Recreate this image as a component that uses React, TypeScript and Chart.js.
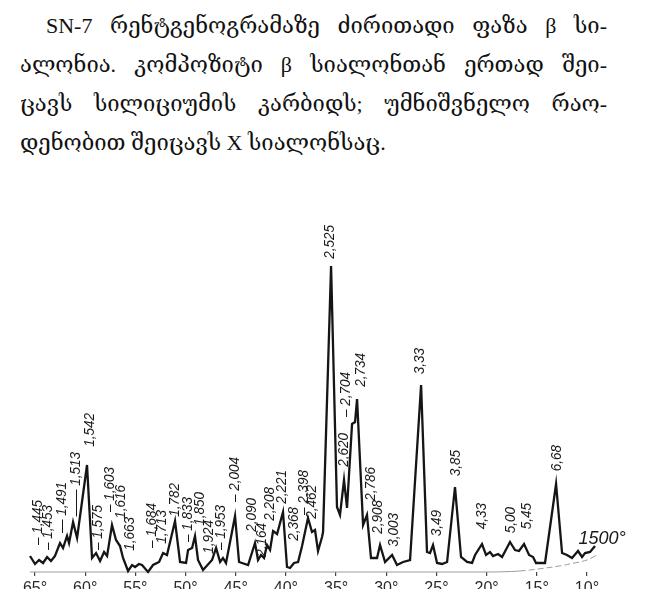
import React, { useEffect, useRef } from "react";
import { Chart, registerables } from "chart.js";

Chart.register(...registerables);

// Caption above the diffractogram
const noteLines = [
  "SN-7 რენტგენოგრამაზე ძირითადი ფაზა β სი-",
  "ალონია. კომპოზიტი β სიალონთან ერთად შეი-",
  "ცავს სილიციუმის კარბიდს; უმნიშვნელო რაო-",
  "დენობით შეიცავს X სიალონსაც.",
];

// Diffraction trace: 2θ (degrees) and recorded intensity (arbitrary units)
const twoTheta = [
  65.5, 65.0, 64.6, 64.2, 63.8, 63.41, 63.01, 62.51, 62.21, 61.81,
  61.61, 61.21, 60.81, 59.82, 59.32, 58.92, 58.52, 58.12, 57.82, 57.33,
  56.93, 56.53, 56.23, 55.73, 55.33, 55.03, 54.64, 54.34, 53.74, 53.24,
  52.64, 52.24, 51.85, 51.05, 50.55, 49.95, 49.75, 49.35, 49.06, 48.76,
  48.26, 47.36, 46.96, 46.56, 46.27, 45.97, 45.07, 44.67, 43.77, 43.08,
  42.78, 42.48, 42.18, 41.88, 41.58, 41.28, 40.88, 40.29, 39.89, 39.59,
  39.19, 38.79, 38.39, 37.8, 37.4, 37.1, 36.8, 36.4, 36.3, 35.5,
  34.91, 34.61, 34.21, 33.91, 33.41, 33.11, 32.91, 32.31, 31.92, 31.52,
  30.92, 30.62, 30.12, 29.42, 28.93, 28.33, 27.63, 26.53, 25.94, 25.64,
  25.34, 24.94, 24.44, 23.94, 23.15, 22.55, 21.95, 21.45, 21.15, 20.46,
  20.06, 19.66, 19.36, 18.86, 18.46, 17.67, 17.17, 16.77, 16.27, 15.77,
  15.37, 15.08, 14.18, 13.08, 12.48, 11.99, 11.49, 10.89, 10.49, 10.19,
  9.69, 9.2,
];
const intensity = [
  16, 8, 12, 9, 15, 11, 16, 29, 24, 36,
  29, 50, 34, 107, 14, 19, 11, 20, 16, 47,
  32, 26, 14, 1, 7, 5, 8, 7, 0, 7,
  10, 19, 17, 51, 10, 9, 22, 24, 36, 12,
  2, 12, 24, 10, 14, 9, 56, 10, 7, 29,
  12, 17, 14, 27, 22, 41, 38, 60, 5, 4,
  9, 10, 26, 54, 40, 42, 21, 35, 40, 306,
  65, 57, 92, 64, 148, 150, 173, 47, 57, 14,
  14, 27, 10, 17, 7, 10, 12, 187, 20, 19,
  27, 9, 8, 10, 85, 15, 10, 9, 17, 28,
  17, 20, 16, 18, 15, 30, 22, 21, 28, 17,
  15, 9, 9, 88, 19, 17, 14, 21, 15, 19,
  20, 26,
];

// Recorder zero line (bends up at low angles)
const axisTheta = [65.5, 20, 16.7, 13.4, 11.7, 10, 9.0];
const axisLevel = [0, 0, 1, 5, 8, 12, 17];

// Interplanar spacings (Å) written over the reflections, with where each one sits
const peakLabels = [
  "– 1,445", "– 1,453", "— 1,491", "—— 1,513", "1,542", "– 1,575", "– 1,603", "1,616",
  "1,663", "– 1,684", "1,713", "1,782", "– 1,833", "1,850", "1,924", "– 1,953",
  "– 2,004", "2,090", "2,164", "2,208", "2,221", "2,368", "– 2,398", "2,462",
  "2,525", "2,620", "– 2,704", "2,734", "2,786", "2,908", "3,003", "3,33",
  "3,49", "3,85", "4,33", "5,00", "5,45", "6,68",
];
const labelTheta = [
  64.7, 63.7, 62.31, 60.91, 59.52, 58.72, 57.53, 56.43,
  55.53, 53.34, 52.34, 51.05, 49.75, 48.56, 47.66, 46.46,
  45.07, 43.38, 42.38, 41.58, 40.39, 39.19, 38.19, 37.4,
  35.6, 34.21, 34.01, 32.51, 31.52, 30.82, 29.23, 26.63,
  24.94, 23.05, 20.46, 17.57, 15.97, 12.98,
];
const labelTop = [
  72, 67, 90, 120, 159, 67, 105, 87,
  55, 69, 62, 89, 75, 80, 52, 67,
  115, 74, 49, 85, 102, 65, 102, 87,
  347, 139, 200, 219, 105, 72, 59, 224,
  62, 122, 69, 65, 69, 127,
];

// Firing temperature of the sample, written at the end of the trace
const curveTag = "1500°";
const curveTagTheta = 8.5;
const curveTagLevel = 33;

const tickDegrees = [65, 60, 55, 50, 45, 40, 35, 30, 25, 20, 15, 10];

const labelFont = 'italic 15px "Liberation Sans", Arial, sans-serif';

const peakLabelsPlugin = {
  id: "peakLabels",
  afterDatasetsDraw(chart: any) {
    const { ctx } = chart;
    const xs = chart.scales.x;
    const ys = chart.scales.y;
    ctx.save();
    ctx.fillStyle = "#1a1a1a";
    ctx.font = labelFont;
    ctx.textAlign = "right";
    ctx.textBaseline = "middle";
    peakLabels.forEach((text, i) => {
      const px = xs.getPixelForValue(labelTheta[i]);
      const py = ys.getPixelForValue(labelTop[i]);
      ctx.save();
      ctx.translate(px, py);
      ctx.rotate(-Math.PI / 2);
      ctx.scale(0.9, 1);
      ctx.fillText(text, 0, 0);
      ctx.restore();
    });
    ctx.font = 'italic 18px "Liberation Sans", Arial, sans-serif';
    ctx.textAlign = "center";
    ctx.fillText(
      curveTag,
      xs.getPixelForValue(curveTagTheta),
      ys.getPixelForValue(curveTagLevel)
    );
    ctx.restore();
  },
};

export default function App() {
  const canvasRef = useRef<HTMLCanvasElement>(null);

  useEffect(() => {
    const canvas = canvasRef.current;
    if (!canvas) return;
    const chart = new Chart(canvas, {
      type: "line",
      data: {
        datasets: [
          {
            label: "1500°",
            data: twoTheta.map((t, i) => ({ x: t, y: intensity[i] })),
            borderColor: "#151515",
            borderWidth: 2.3,
            pointRadius: 0,
            tension: 0,
            fill: false,
            clip: false,
            order: 1,
            borderJoinStyle: "miter",
          },
          {
            label: "zero",
            data: axisTheta.map((t, i) => ({ x: t, y: axisLevel[i] })),
            borderColor: "#9c9c9c",
            borderWidth: 1,
            pointRadius: 0,
            tension: 0.3,
            fill: false,
            clip: false,
            order: 2,
            segment: {
              borderDash: (c: any) => (c.p0.parsed.x < 20 ? [6, 3] : undefined),
            },
          },
        ],
      },
      options: {
        responsive: false,
        animation: false,
        devicePixelRatio: 1,
        layout: { padding: { left: 25, right: 56, top: 212, bottom: 0 } },
        plugins: {
          legend: { display: false },
          tooltip: { enabled: false },
        },
        scales: {
          x: {
            type: "linear",
            reverse: true,
            min: 9,
            max: 66,
            afterBuildTicks: (s: any) => {
              s.ticks = tickDegrees.map((v) => ({ value: v }));
            },
            afterFit: (s: any) => {
              s.height = 17;
            },
            ticks: {
              callback: (v: any) => `${v}°`,
              font: { size: 16, family: '"Liberation Sans", Arial, sans-serif' },
              color: "#2a2a2a",
              padding: 3,
              maxRotation: 0,
              autoSkip: false,
            },
            grid: {
              drawOnChartArea: false,
              drawTicks: true,
              tickLength: 4,
              color: "#444",
              lineWidth: 1.2,
            },
            border: { display: false },
          },
          y: { display: false, min: 0, max: 360 },
        },
      },
      plugins: [peakLabelsPlugin],
    } as any);
    return () => chart.destroy();
  }, []);

  return (
    <div
      style={{
        position: "fixed",
        left: 0,
        top: 0,
        width: 653,
        height: 589,
        overflow: "hidden",
        background: "#fff",
      }}
    >
      <div
        style={{
          position: "absolute",
          left: 20,
          top: 6,
          width: 587,
          fontFamily: '"Liberation Serif", "DejaVu Serif", serif',
          fontSize: 22,
          lineHeight: "39px",
          color: "#111",
        }}
      >
        {noteLines.map((line, i) => (
          <div
            key={i}
            style={{
              textAlign: i < 3 ? "justify" : "left",
              textAlignLast: i < 3 ? "justify" : "left",
              textIndent: i === 0 ? 26 : 0,
              whiteSpace: "nowrap",
            }}
          >
            {line}
          </div>
        ))}
      </div>
      <canvas
        ref={canvasRef}
        width={653}
        height={589}
        style={{ position: "absolute", left: 0, top: 0, width: 653, height: 589 }}
      />
    </div>
  );
}
